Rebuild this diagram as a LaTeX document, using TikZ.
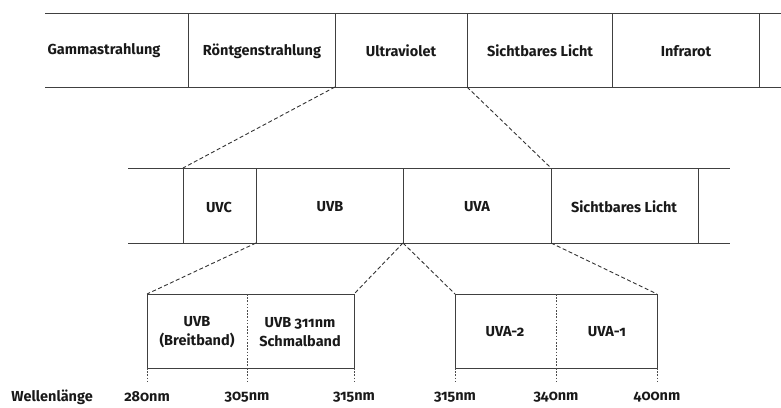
\documentclass[tikz,border=0pt]{standalone}
\usepackage{fontspec}
\setmainfont{Fira Sans}[Numbers=OldStyle]

\begin{document}
\begin{tikzpicture}[x=1pt,y=-1pt,line width=1pt,
  band/.style={font=\bfseries\fontsize{14.5}{19}\selectfont, text=black!90, align=center, inner sep=1pt},
  zoomline/.style={draw=black!80, line width=.9pt, dash pattern=on 4pt off 2.5pt},
  dotline/.style={draw=black!70, dash pattern=on 1.6pt off 1.6pt}]
\useasboundingbox (0,0) rectangle (781,407);
% Spektrum oben
\draw[black!75] (45,13)--(781,13) (45,87)--(781,87);
\foreach \x in {188,335,467,612,759} {
 \draw[black!75] (\x,13)--(\x,87);
}
\foreach \x/\t/\n in {104/Gammastrahlung/gamma, 262/Röntgenstrahlung/roentgen, 401/Ultraviolet/uv, 540/Sichtbares Licht/licht, 686/Infrarot/ir} {
 \node[band] (\n) at (\x,51) {\t};
}
% UV-Bereich
\draw[black!75] (128,168)--(730,168) (128,243)--(730,243);
\foreach \x in {183,256,403,551,698} {
 \draw[black!75] (\x,168)--(\x,243);
}
\foreach \x/\t/\n in {219/UVC/uvc, 330/UVB/uvb, 477/UVA/uva, 624/Sichtbares Licht/licht2} {
 \node[band] (\n) at (\x,207) {\t};
}
\coordinate (uvl) at (335,87);
\coordinate (uvr) at (467,87);
\coordinate (uvcl) at (183,168);
\coordinate (lichtl) at (551,168);
\draw[zoomline] (uvl)--(uvcl);
\draw[zoomline] (uvr)--(lichtl);
% UVB und UVA im Detail
\coordinate (bl) at (147,294);
\coordinate (br) at (354,294);
\coordinate (al) at (455,294);
\coordinate (ar) at (657,294);
\draw[black!75] (bl) rectangle (354,368);
\draw[black!75] (al) rectangle (657,368);
\draw[dotline] (247,294)--(247,368);
\draw[dotline] (556,294)--(556,368);
\node[band] (breit) at (197,332) {UVB\\(Breitband)};
\node[band] (schmal) at (300,332) {UVB 311nm\\Schmalband};
\node[band] (uva2) at (505,332) {UVA-2};
\node[band] (uva1) at (607,332) {UVA-1};
\coordinate (uvbl) at (256,243);
\coordinate (uvbr) at (403,243);
\coordinate (uvar) at (551,243);
\draw[zoomline] (uvbl)--(bl);
\draw[zoomline] (uvbr)--(br);
\draw[zoomline] (uvbr)--(al);
\draw[zoomline] (uvar)--(ar);
% Wellenlaengen
\node[band, anchor=west] (wl) at (10,397) {Wellenlänge};
\foreach \x/\t in {147/280nm, 247/305nm, 354/315nm, 455/315nm, 556/340nm, 657/400nm} {
 \draw[dotline] (\x,368)--++(0,15);
 \node[band] (nm\x) at (\x,397) {\t};
}
\end{tikzpicture}
\end{document}
